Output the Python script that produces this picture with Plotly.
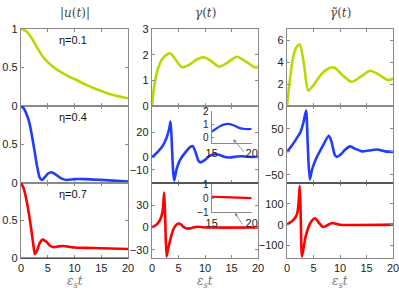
import plotly.graph_objects as go

# ---------------- data ----------------
t_u1 = [0, 1, 2, 3, 4, 5, 6, 7, 8, 9, 10, 12, 14, 16, 18, 20]
u1 = [1, 0.97, 0.88, 0.76, 0.65, 0.57, 0.51, 0.46, 0.42, 0.38, 0.35, 0.28, 0.22, 0.17, 0.13, 0.10]

t_u4 = [0, 0.5, 1, 1.5, 2, 2.5, 3, 3.5, 3.9, 4.5, 5, 5.7, 6.5, 7.5, 8.5, 10, 12, 15, 20]
u4 = [1, 0.97, 0.9, 0.8, 0.63, 0.43, 0.22, 0.07, 0.04, 0.08, 0.12, 0.14, 0.11, 0.06, 0.04, 0.05, 0.05, 0.04, 0.02]

t_u7 = [0, 0.5, 1, 1.5, 2, 2.3, 2.6, 3, 3.5, 4, 4.7, 5.5, 6.2, 7, 8, 9, 10, 12, 15, 20]
u7 = [1, 0.93, 0.78, 0.58, 0.34, 0.18, 0.05, 0.1, 0.2, 0.245, 0.22, 0.16, 0.145, 0.155, 0.16, 0.15, 0.14, 0.135, 0.13, 0.12]

t_g1 = [0, 0.3, 0.7, 1.2, 2, 3, 3.5, 4.3, 5.6, 7, 8.5, 9.8, 11.2, 12.7, 14.3, 16, 17.8, 19.5, 20]
g1 = [0, 0.6, 1.1, 1.5, 1.85, 2.03, 2.05, 1.85, 1.52, 1.6, 1.82, 1.9, 1.75, 1.53, 1.7, 1.92, 1.72, 1.5, 1.53]

t_g4 = [0, 1, 2, 2.7, 3.2, 3.5, 3.75, 4.0, 4.2, 4.6, 5.3, 6.3, 7.3, 7.7, 8.3, 8.8, 9.2, 10, 11, 12, 13, 14, 15, 16, 17, 18, 20]
g4 = [0, 4, 9, 15, 22, 28.5, 10, -12, -18.5, -10, -2, 4, 8.5, 9, 3, -3, -4, -2, 1.5, 2.5, 1.5, 0, 0, 0.7, 0.9, 0.5, 0.3]

t_g7 = [0, 1, 1.5, 2, 2.3, 2.5, 2.75, 3, 3.5, 4, 4.6, 5, 5.5, 6, 6.8, 7.5, 8.5, 9.5, 11, 20]
g7 = [0, 5, 10, 22, 47, 10, -39, -30, -15, -3, 4, 5.5, 4, 0.5, -1.5, -0.5, 1, 0.5, 0, 0]

t_gt1 = [0, 0.5, 1, 1.6, 2.4, 3.2, 4.0, 5, 6.5, 8, 8.9, 10.5, 12.2, 14, 15.7, 17.5, 19.1, 20]
gt1 = [0, 2.2, 4.0, 5.2, 5.6, 3.8, 1.4, 1.9, 2.9, 3.45, 3.5, 2.8, 2.2, 2.7, 3.2, 2.8, 2.35, 2.5]

t_gt4 = [0, 1, 1.9, 2.5, 3.1, 3.6, 3.9, 4.3, 4.7, 5.3, 6.6, 7.9, 8.4, 9.0, 9.4, 10, 11, 11.9, 13, 14.2, 15.5, 17, 18.5, 20]
gt4 = [0, 15, 31, 42, 64, 90, 20, -60, -40, -20, 9.5, 35, 22, -6, -11, -7, 5, 12, 6, 1, 3, 5, 1, 0]

t_gt7 = [0, 1.26, 1.9, 2.2, 2.4, 2.6, 2.83, 3.5, 4.4, 5.3, 6.0, 6.8, 7.6, 8.5, 10, 20]
gt7 = [0, 24, 52, 110, 186, 30, -153, -58, 8, 31, 10, -11, -3, 8, 0, 0]

t_in1 = [15, 15.5, 16, 16.5, 17.1, 17.8, 18.5, 19.2, 20]
in1 = [0.45, 0.65, 0.85, 0.98, 1.03, 0.92, 0.72, 0.65, 0.65]
t_in2 = [15, 17.5, 20]
in2 = [0.1, 0.05, 0.0]

x_ticks = [0, 5, 10, 15, 20]
etas = ["η=0.1", "η=0.4", "η=0.7"]
titles = ["|<i>u</i>(<i>t</i>)|", "<i>γ</i>(<i>t</i>)", "<i>γ̃</i>(<i>t</i>)"]

GREEN = "#b2dc00"
BLUE = "#1f3cff"
RED = "#ff0000"
W, H = 399, 294

col_px = [(21, 128), (152, 258), (287, 393)]
row_px = [(29, 106), (106, 183), (183, 258)]

def xd(a, b):
    return [a / W, b / W]

def yd(top, bot):
    return [1 - bot / H, 1 - top / H]

fig = go.Figure()

panels = [
    # (row, col, t, y, color, yrange, ytickvals)
    (0, 0, t_u1, u1, GREEN, [0, 1], [0, 0.5, 1]),
    (1, 0, t_u4, u4, BLUE, [0, 1], [0, 0.5]),
    (2, 0, t_u7, u7, RED, [0, 1], [0, 0.5]),
    (0, 1, t_g1, g1, GREEN, [0, 3], [0, 1, 2, 3]),
    (1, 1, t_g4, g4, BLUE, [-20.5, 41], [-10, 0, 20]),
    (2, 1, t_g7, g7, RED, [-41, 60], [-30, 0, 30]),
    (0, 2, t_gt1, gt1, GREEN, [0, 7], [0, 2, 4, 6]),
    (1, 2, t_gt4, gt4, BLUE, [-68, 100], [-50, 0, 50]),
    (2, 2, t_gt7, gt7, RED, [-160, 200], [-100, 0, 100]),
]

tickfont = dict(family="Liberation Sans, Arial", size=11, color="#222")
FRAME = "#8a8a8a"

layout_axes = {}
for i, (r, c, tt, yy, colr, yr, ytv) in enumerate(panels):
    n = i + 1
    xname = "x" if n == 1 else f"x{n}"
    yname = "y" if n == 1 else f"y{n}"
    fig.add_trace(go.Scatter(x=tt, y=yy, mode="lines",
                             line=dict(color=colr, width=2.6, shape="spline", smoothing=0.7),
                             xaxis=xname, yaxis=yname, showlegend=False, cliponaxis=True))
    xk = "xaxis" if n == 1 else f"xaxis{n}"
    yk = "yaxis" if n == 1 else f"yaxis{n}"
    layout_axes[xk] = dict(domain=xd(*col_px[c]), anchor=yname, range=[0, 20],
                           tickvals=x_ticks, showticklabels=(r == 2), ticks="inside",
                           ticklen=3, tickcolor=FRAME, showline=True, linecolor=FRAME,
                           linewidth=1.4, mirror="ticks", showgrid=False, zeroline=False,
                           tickfont=tickfont, automargin=False, ticklabeloverflow="allow")
    layout_axes[yk] = dict(domain=yd(*row_px[r]), anchor=xname, range=yr,
                           tickvals=ytv, ticks="inside", ticklen=3, tickcolor=FRAME,
                           showline=True, linecolor=FRAME, linewidth=1.4, mirror="ticks",
                           showgrid=False, zeroline=False, tickfont=tickfont, automargin=False,
                           ticklabeloverflow="allow")

# insets
inset_specs = [
    (10, t_in1, in1, BLUE, [-0.375, 2], [0, 1, 2], (111, 142.7)),
    (11, t_in2, in2, RED, [-1, 1], [-1, 0, 1], (184, 212.3)),
]
for n, tt, yy, colr, yr, ytv, (top, bot) in inset_specs:
    fig.add_trace(go.Scatter(x=tt, y=yy, mode="lines",
                             line=dict(color=colr, width=2.2, shape="spline"),
                             xaxis=f"x{n}", yaxis=f"y{n}", showlegend=False))
    layout_axes[f"xaxis{n}"] = dict(domain=xd(211.7, 251.7), anchor=f"y{n}", range=[15, 20],
                                    tickvals=[15, 20], ticks="inside", ticklen=2,
                                    tickcolor=FRAME, showline=True, linecolor=FRAME,
                                    linewidth=1.2, mirror=False, showgrid=False,
                                    zeroline=False, tickfont=tickfont, automargin=False,
                                    ticklabeloverflow="allow")
    layout_axes[f"yaxis{n}"] = dict(domain=yd(top, bot), anchor=f"x{n}", range=yr,
                                    tickvals=ytv, ticks="inside", ticklen=2,
                                    tickcolor=FRAME, showline=True, linecolor=FRAME,
                                    linewidth=1.2, mirror=False, showgrid=False,
                                    zeroline=False, automargin=False, ticklabeloverflow="allow",
                                    tickfont=dict(family="Liberation Sans, Arial", size=10, color="#222"))

annotations = []
# column titles and x labels
for c, txt in enumerate(titles):
    a, b = col_px[c]
    annotations.append(dict(text=txt, x=(a + b) / 2 / W, y=1 - 13 / H, xref="paper", yref="paper",
                            xanchor="center", yanchor="middle", showarrow=False,
                            font=dict(family="DejaVu Serif, serif", size=12, color="#444")))
    annotations.append(dict(text="<i>ε<sub>s</sub>t</i>", x=(a + b) / 2 / W, y=1 - 282 / H,
                            xref="paper", yref="paper", xanchor="center", yanchor="middle",
                            showarrow=False,
                            font=dict(family="DejaVu Serif, serif", size=12, color="#777")))
# eta labels
for r, txt in enumerate(etas):
    top = row_px[r][0]
    annotations.append(dict(text=txt, x=73 / W, y=1 - (top + 11) / H, xref="paper", yref="paper",
                            xanchor="center", yanchor="middle", showarrow=False,
                            font=dict(family="Liberation Sans, Arial", size=11, color="#111")))
# arrows from curves to insets
annotations.append(dict(x=233.3 / W, y=1 - 139.3 / H, xref="paper", yref="paper", text="",
                        showarrow=True, ax=11.7, ay=14, arrowhead=2, arrowsize=0.8,
                        arrowwidth=0.8, arrowcolor="#777"))
annotations.append(dict(x=235 / W, y=1 - 213 / H, xref="paper", yref="paper", text="",
                        showarrow=True, ax=8.3, ay=12.7, arrowhead=2, arrowsize=0.8,
                        arrowwidth=0.8, arrowcolor="#777"))

shapes = [
    dict(type="line", xref="paper", yref="paper", x0=152 / W, x1=258 / W, y0=1 - 183 / H, y1=1 - 183 / H,
         line=dict(color="#222", width=1)),
    dict(type="line", xref="paper", yref="paper", x0=287 / W, x1=393 / W, y0=1 - 183 / H, y1=1 - 183 / H,
         line=dict(color="#222", width=1)),
    dict(type="line", xref="paper", yref="paper", x0=21 / W, x1=128 / W, y0=1 - 258 / H, y1=1 - 258 / H,
         line=dict(color="#222", width=1)),
]

fig.update_layout(width=W, height=H, margin=dict(l=0, r=0, t=0, b=0),
                  paper_bgcolor="white", plot_bgcolor="white",
                  annotations=annotations, shapes=shapes, **layout_axes)

fig.write_html("out.html", config={"displayModeBar": False},
               post_script="document.body.style.margin='0';document.body.style.padding='0';document.body.style.overflow='hidden';")
